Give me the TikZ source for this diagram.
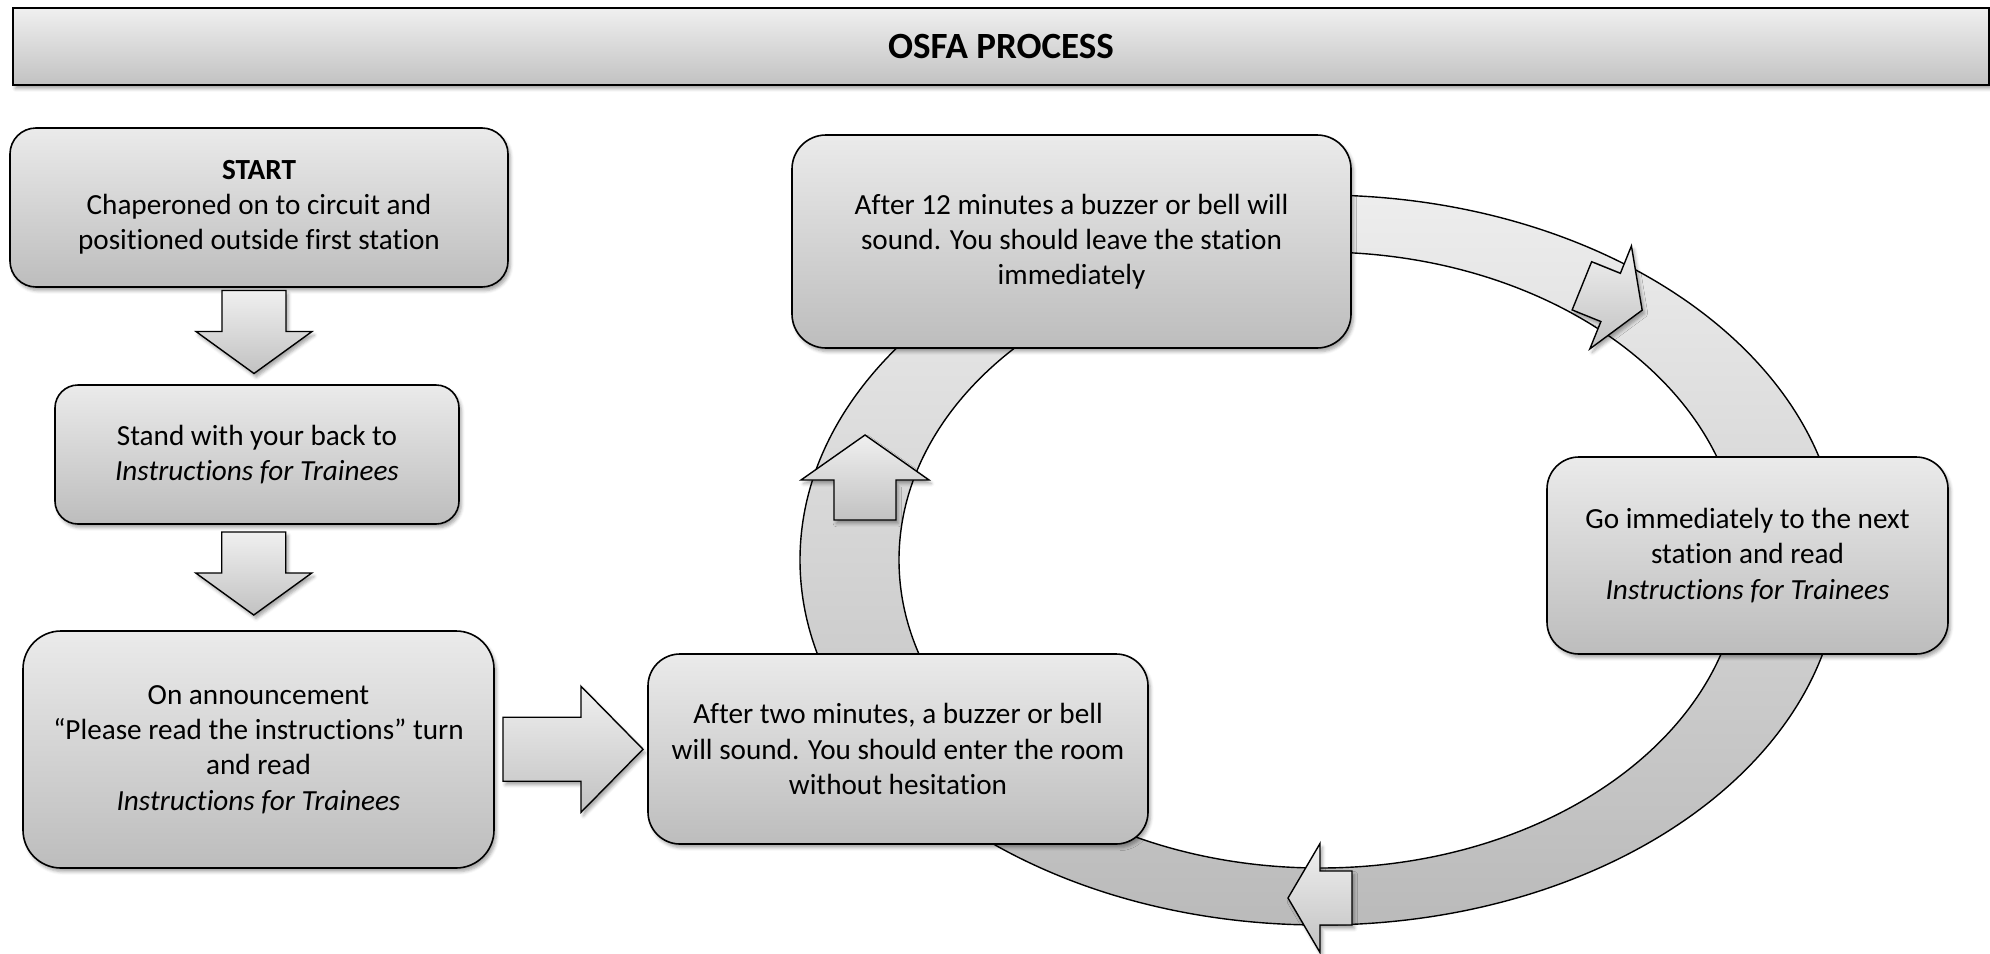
\documentclass[tikz,border=0pt]{standalone}
\usepackage{fontspec}
\setmainfont{Carlito}[Ligatures=NoCommon]
\usetikzlibrary{calc, shadows.blur}
\colorlet{H0}{black!8}
\colorlet{H1}{black!26}
\colorlet{rim}{black}
\newcommand{\cardfont}{\fontsize{14.6}{17.6}\selectfont}
\newcommand{\headfont}{\fontsize{18.5}{22}\selectfont\bfseries}
\tikzset{
  softshadow/.style={blur shadow={shadow xshift=1.2pt, shadow yshift=-1.8pt,
                     shadow blur radius=1.6pt, shadow opacity=35}},
  card/.style    ={draw=rim, line width=0.8pt, rounded corners=14pt, inner sep=0pt,
                   align=center, font=\cardfont, top color=H0, bottom color=H1,
                   softshadow},
  banner/.style  ={card, rounded corners=0pt, font=\headfont,
                   top color=black!6, bottom color=black!24},
  arrowfill/.style={draw=rim, line width=0.7pt, top color=black!6,
                   bottom color=black!24, softshadow},
  ringfill/.style={draw=rim, line width=0.7pt, even odd rule,
                   top color=black!7, bottom color=black!27},
  pics/blockarr/.style n args={4}{code={
    % #1 length, #2 shaft, #3 head width, #4 head length
    \path[arrowfill] ({-#1/2},{-#2/2}) -- ({#1/2-#4},{-#2/2}) -- ({#1/2-#4},{-#3/2})
      -- ({#1/2},0) -- ({#1/2-#4},{#3/2}) -- ({#1/2-#4},{#2/2})
      -- ({-#1/2},{#2/2}) -- cycle;
  }},
}

\begin{document}
\begin{tikzpicture}[x=0.5pt, y=-0.5pt]
\useasboundingbox (0,0) rectangle (1990,953);

% --- the circuit ring ---
\path[ringfill] (1320,560) ellipse [x radius=520, y radius=365]
                (1320,560) ellipse [x radius=421, y radius=308];

\pic[rotate=90]  at (865,477.5) {blockarr={85}{62}{128}{45}};
\pic[rotate=-22] at (1612,298)  {blockarr={65}{52}{111}{34}};
\pic[rotate=180] at (1320,898)  {blockarr={64}{54}{109}{32}};

% --- title ---
\node[banner, minimum width=988pt, minimum height=38.5pt] (title) at (1001,46.5)
  {OSFA PROCESS};

% --- left column ---
\node[card, rounded corners=13pt, minimum width=249pt, minimum height=79.5pt]
  (start) at (259,207.5)
  {\textbf{START}\\Chaperoned on to circuit and\\positioned outside first station};

\node[card, rounded corners=11.5pt, minimum width=202pt, minimum height=69.5pt]
  (stand) at (257,454.5)
  {Stand with your back to\\\textit{Instructions for Trainees}};

\node[card, rounded corners=19pt, minimum width=235.5pt, minimum height=118.5pt]
  (announce) at (258.5,749.5)
  {On announcement\\“Please read the instructions” turn\\and read\\\textit{Instructions for Trainees}};

% --- circuit stations ---
\node[card, rounded corners=16pt, minimum width=250pt, minimum height=95pt]
  (enter) at (898,749)
  {After two minutes, a buzzer or bell\\will sound. You should enter the room\\without hesitation};

\node[card, rounded corners=17pt, minimum width=279.5pt, minimum height=106.5pt]
  (leave) at (1071.5,241.5)
  {After 12 minutes a buzzer or bell will\\sound. You should leave the station\\immediately};

\node[card, rounded corners=16pt, minimum width=200.5pt, minimum height=98.5pt]
  (gonext) at (1747.5,555.5)
  {Go immediately to the next\\station and read\\\textit{Instructions for Trainees}};

% --- block arrows between boxes ---
\pic[rotate=-90] at ($(start.south)!0.5!(stand.north)+(-4,-4)$)    {blockarr={83}{64}{116}{42}};
\pic[rotate=-90] at ($(stand.south)!0.5!(announce.north)+(-4,-4)$) {blockarr={83}{64}{116}{42}};
\pic at ($(announce.east)!0.5!(enter.west)+(2,0)$) {blockarr={140}{64}{126}{62}};

\end{tikzpicture}
\end{document}
